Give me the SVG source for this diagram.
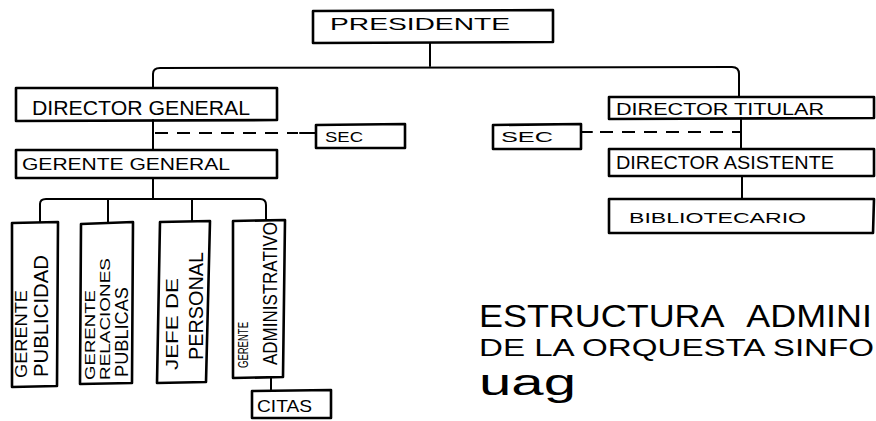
<svg xmlns="http://www.w3.org/2000/svg" width="876" height="421" viewBox="0 0 876 421">
<style>
.box{fill:none;stroke:#000;stroke-width:2.6;stroke-linejoin:round}
.ln{fill:none;stroke:#000;stroke-width:2;stroke-linecap:round;stroke-linejoin:round}
.dash{fill:none;stroke:#000;stroke-width:2;stroke-dasharray:13 9}
.t{font-family:"Liberation Sans","DejaVu Sans",sans-serif;fill:#000}
</style>
<rect width="876" height="421" fill="#fff"/>
<g id="connectors">
<path class="ln" d="M430,43 L430,66"/>
<path class="ln" d="M153,88 L153,74 Q153,68 160,68 L732,67 Q739,67 739,74 L739,97"/>
<path class="ln" d="M153,120 L153,150"/>
<path class="dash" d="M155,133 L298,133"/>
<path class="ln" d="M300,133 L316,133"/>
<path class="ln" d="M741,118 L741,149"/>
<path class="ln" d="M581,132 L592,132"/>
<path class="dash" d="M600,132 L740,132"/>
<path class="ln" d="M742,176 L742,199"/>
<path class="ln" d="M153,178 L153,199"/>
<path class="ln" d="M40,222 L40,204 Q40,199 46,199 L260,199 Q266,199 266,205 L266,220"/>
<path class="ln" d="M108,199 L108,223"/>
<path class="ln" d="M192,199 L192,221"/>
<path class="ln" d="M271,378 L271,390"/>
</g>
<g id="presidente">
<path class="box" d="M313,11 L553,10 L553,42 L313,43 Z"/>
<text class="t" x="330" y="30" font-size="17" textLength="180" lengthAdjust="spacingAndGlyphs">PRESIDENTE</text>
</g>
<g id="director-general">
<path class="box" d="M16,88 L277,88 L277,120 L16,121 Z"/>
<text class="t" x="32" y="115" font-size="20" textLength="218" lengthAdjust="spacingAndGlyphs">DIRECTOR GENERAL</text>
</g>
<g id="sec-left">
<path class="box" d="M316,125 L405,124 L405,148 L316,148 Z"/>
<text class="t" x="325" y="142" font-size="14" textLength="38" lengthAdjust="spacingAndGlyphs">SEC</text>
</g>
<g id="gerente-general">
<path class="box" d="M16,150 L277,150 L277,178 L16,178 Z"/>
<text class="t" x="22" y="170" font-size="17" textLength="208" lengthAdjust="spacingAndGlyphs">GERENTE GENERAL</text>
</g>
<g id="gerente-publicidad">
<path class="box" d="M12,223 L58,222 L57,386 L12,387 Z"/>
<text class="t" font-size="16" textLength="88" lengthAdjust="spacingAndGlyphs" transform="translate(27,378) rotate(-90)">GERENTE</text>
<text class="t" font-size="20" textLength="122" lengthAdjust="spacingAndGlyphs" transform="translate(48,377) rotate(-90)">PUBLICIDAD</text>
</g>
<g id="gerente-relaciones">
<path class="box" d="M81,224 L133,222 L132,383 L80,384 Z"/>
<text class="t" font-size="15" textLength="90" lengthAdjust="spacingAndGlyphs" transform="translate(95,380) rotate(-90)">GERENTE</text>
<text class="t" font-size="15" textLength="122" lengthAdjust="spacingAndGlyphs" transform="translate(110,380) rotate(-90)">RELACIONES</text>
<text class="t" font-size="18" textLength="90" lengthAdjust="spacingAndGlyphs" transform="translate(128,377) rotate(-90)">PUBLICAS</text>
</g>
<g id="jefe-personal">
<path class="box" d="M160,222 L210,221 L206,382 L157,383 Z"/>
<text class="t" font-size="16" textLength="92" lengthAdjust="spacingAndGlyphs" transform="translate(178,370) rotate(-90)">JEFE DE</text>
<text class="t" font-size="20" textLength="108" lengthAdjust="spacingAndGlyphs" transform="translate(203,360) rotate(-90)">PERSONAL</text>
</g>
<g id="gerente-administrativo">
<path class="box" d="M233,221 L285,220 L283,377 L233,378 Z"/>
<text class="t" font-size="15" textLength="46" lengthAdjust="spacingAndGlyphs" transform="translate(248,368) rotate(-90)">GERENTE</text>
<text class="t" font-size="20" textLength="143" lengthAdjust="spacingAndGlyphs" transform="translate(277,365) rotate(-90)">ADMINISTRATIVO</text>
</g>
<g id="citas">
<path class="box" d="M252,391 L331,390 L331,418 L252,418 Z"/>
<text class="t" x="257" y="412" font-size="17" textLength="55" lengthAdjust="spacingAndGlyphs">CITAS</text>
</g>
<g id="director-titular">
<path class="box" d="M609,97 L874,97 L874,118 L609,119 Z"/>
<text class="t" x="616" y="115" font-size="17" textLength="208" lengthAdjust="spacingAndGlyphs">DIRECTOR TITULAR</text>
</g>
<g id="sec-right">
<path class="box" d="M493,125 L581,124 L581,149 L493,149 Z"/>
<text class="t" x="501" y="142" font-size="15" textLength="52" lengthAdjust="spacingAndGlyphs">SEC</text>
</g>
<g id="director-asistente">
<path class="box" d="M609,149 L874,149 L874,176 L609,176 Z"/>
<text class="t" x="616" y="169" font-size="18" textLength="218" lengthAdjust="spacingAndGlyphs">DIRECTOR ASISTENTE</text>
</g>
<g id="bibliotecario">
<path class="box" d="M609,199 L874,199 L873,233 L609,233 Z"/>
<text class="t" x="629" y="223" font-size="15" textLength="177" lengthAdjust="spacingAndGlyphs">BIBLIOTECARIO</text>
</g>
<g id="title">
<text class="t" x="479" y="327" font-size="32" textLength="393" lengthAdjust="spacingAndGlyphs" word-spacing="14">ESTRUCTURA ADMINI</text>
<text class="t" x="479" y="356" font-size="24" textLength="395" lengthAdjust="spacingAndGlyphs">DE LA ORQUESTA SINFO</text>
<text class="t" x="479" y="395" font-size="36" textLength="97" lengthAdjust="spacingAndGlyphs">uag</text>
</g>
</svg>
